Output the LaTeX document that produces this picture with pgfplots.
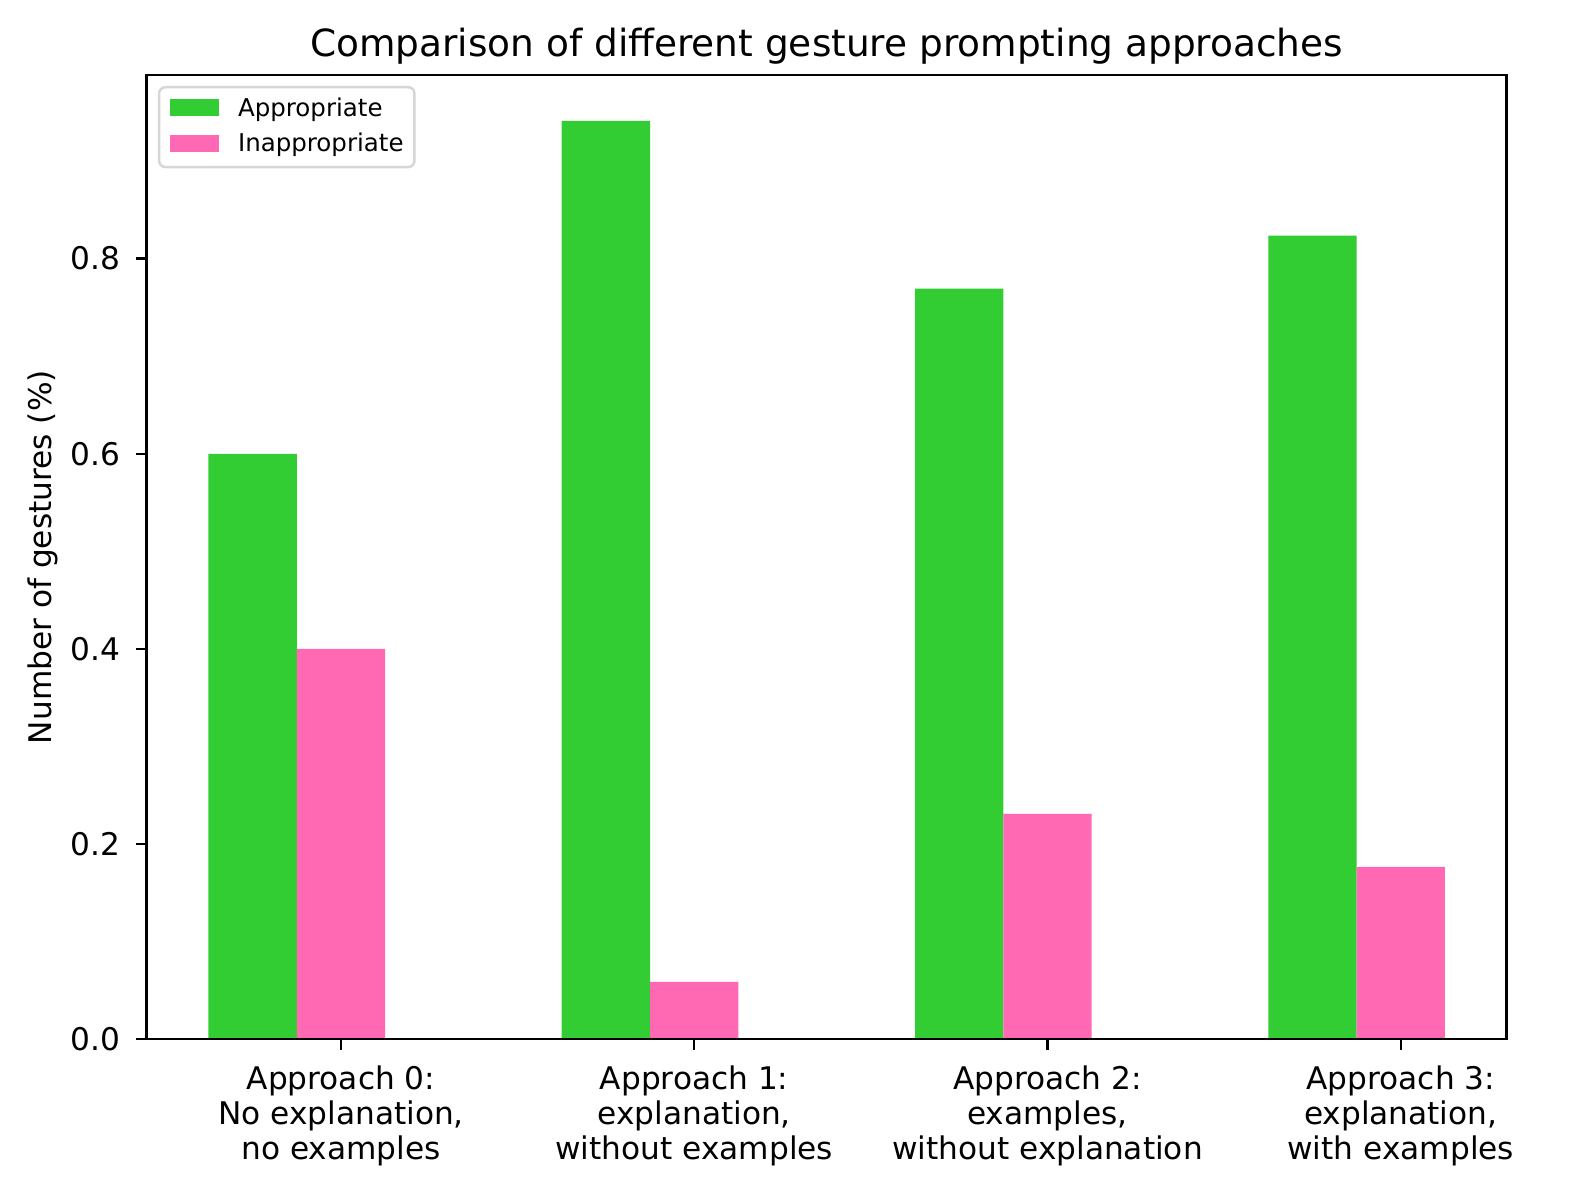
\documentclass[border=0pt]{standalone}
\usepackage{fontspec}
\setmainfont{DejaVu Sans}
\usepackage{pgfplots}
\pgfplotsset{compat=1.18}
\definecolor{cgreen}{RGB}{50,205,50}
\definecolor{cpink}{RGB}{255,105,180}
\definecolor{legedge}{RGB}{214,214,214}
\begin{document}
\begin{tikzpicture}
\begin{axis}[
  at={(0,0)}, anchor=south west,
  scale only axis, width=435.9pt, height=309.0pt,
  xmin=-0.55, xmax=3.3, ymin=0, ymax=0.9882,
  axis on top,
  axis line style={line width=0.8pt},
  every tick/.style={line width=0.8pt, black},
  major tick length=3.5pt,
  tick align=outside,
  xtick pos=bottom, ytick pos=left,
  xtick={0,1,2,3},
  xticklabels={{Approach 0:\\No explanation,\\no examples},
               {Approach 1:\\explanation,\\without examples},
               {Approach 2:\\examples,\\without explanation},
               {Approach 3:\\explanation,\\with examples}},
  xticklabel style={align=center, font=\fontsize{10}{11.2}\selectfont, inner sep=0pt, anchor=north, yshift=-4.9pt},
  ytick={0,0.2,0.4,0.6,0.8},
  /pgf/number format/assume math mode=true,
  yticklabel style={font=\fontsize{10}{12}\selectfont, inner sep=0pt, anchor=east, xshift=-4.8pt,
    /pgf/number format/fixed, /pgf/number format/fixed zerofill, /pgf/number format/precision=1},
  title={Comparison of different gesture prompting approaches},
  title style={font=\fontsize{12}{14.4}\selectfont, at={(axis description cs:0.5,1)}, anchor=base, inner sep=0pt},
  ylabel={Number of gestures (\%)},
  ylabel style={font=\fontsize{10}{12}\selectfont, at={(axis description cs:0,0.5)}, anchor=base, yshift=30.35pt, inner sep=0pt},
  legend style={at={(axis description cs:0.00826,0.98867)}, anchor=north west,
    draw=legedge, line width=0.8pt, rounded corners=2pt, fill=white,
    inner xsep=3.5pt, inner ysep=3.3pt, row sep=3.8pt, column sep=6.1pt,
    font=\fontsize{7.85}{9.4}\selectfont,
    nodes={inner sep=0pt, text height=6pt, text depth=1.6pt}},
  legend cell align=left,
  legend image code/.code={\fill[#1, sharp corners] (0pt,-2.2pt) rectangle (15.7pt,3.2pt);},
]
\addplot[ybar, bar width=0.25, bar shift=0pt, fill=cgreen, draw=none]
  coordinates {(-0.25,0.6) (0.75,0.9412) (1.75,0.7692) (2.75,0.8235)};
\addlegendentry{Appropriate}
\addplot[ybar, bar width=0.25, bar shift=0pt, fill=cpink, draw=none]
  coordinates {(0,0.4) (1,0.0588) (2,0.2308) (3,0.1765)};
\addlegendentry{Inappropriate}
\end{axis}
\pgfresetboundingbox
\path[use as bounding box] (-47.0pt,-44.55pt) rectangle (458.75pt,333.04pt);
\end{tikzpicture}
\end{document}
